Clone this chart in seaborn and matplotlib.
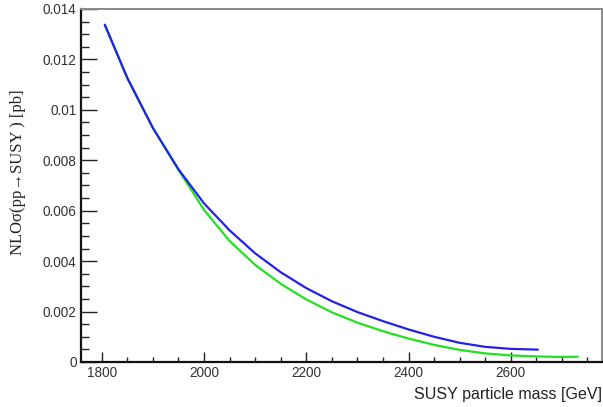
import numpy as np
import pandas as pd
import matplotlib
matplotlib.use("Agg")
import matplotlib.pyplot as plt
import seaborn as sns
from matplotlib.ticker import FixedLocator, MultipleLocator

# blue curve (upper)
mass_blue = [1806, 1850, 1900, 1950, 2000, 2050, 2100, 2150, 2200, 2250,
             2300, 2350, 2400, 2450, 2500, 2550, 2600, 2653]
xsec_blue = [0.01337, 0.01126, 0.00928, 0.00764, 0.00629, 0.00522, 0.00431,
             0.00356, 0.00293, 0.00241, 0.00198, 0.00162, 0.00129, 0.00100,
             0.00076, 0.00060, 0.00052, 0.00049]

# green curve (lower)
mass_green = [1806, 1850, 1900, 1950, 2000, 2050, 2100, 2150, 2200, 2250,
              2300, 2350, 2400, 2450, 2500, 2550, 2600, 2650, 2700, 2731]
xsec_green = [0.01337, 0.01126, 0.00928, 0.00762, 0.00603, 0.00480, 0.00385,
              0.00310, 0.00248, 0.00197, 0.00156, 0.00122, 0.00093, 0.00068,
              0.00048, 0.00034, 0.00026, 0.00022, 0.00020, 0.00021]

x_ticks = [1800, 2000, 2200, 2400, 2600]
y_ticks = [0, 0.002, 0.004, 0.006, 0.008, 0.01, 0.012, 0.014]
y_tick_labels = ["0", "0.002", "0.004", "0.006", "0.008", "0.01", "0.012", "0.014"]

df = pd.concat([
    pd.DataFrame({"mass": mass_green, "xsec": xsec_green, "curve": "green"}),
    pd.DataFrame({"mass": mass_blue, "xsec": xsec_blue, "curve": "blue"}),
])

sns.set_style("white")
plt.rcParams["font.family"] = ["Liberation Sans", "DejaVu Sans"]

fig = plt.figure(figsize=(6.03, 4.07), dpi=100)
ax = fig.add_axes([0.134, 0.1106, 0.864, 0.8674])

sns.lineplot(data=df, x="mass", y="xsec", hue="curve", sort=False,
             palette={"green": "#22e022", "blue": "#2222e6"},
             linewidth=1.6, legend=False, ax=ax, estimator=None)

ax.set_xlim(1759, 2778)
ax.set_ylim(0, 0.014)

ax.xaxis.set_major_locator(FixedLocator(x_ticks))
ax.xaxis.set_minor_locator(MultipleLocator(50))
ax.set_yticks(y_ticks)
ax.set_yticklabels(y_tick_labels)
ax.yaxis.set_minor_locator(MultipleLocator(0.0005))

# ticks inside, only on left / bottom like the ROOT frame
ax.tick_params(axis="both", which="both", direction="in", colors="#222222",
               labelcolor="#333333", labelsize=9.8, width=1.0,
               left=True, bottom=True, top=False, right=False)
ax.tick_params(axis="y", which="major", length=11.3, pad=3)
ax.tick_params(axis="y", which="minor", length=5.8)
ax.tick_params(axis="x", which="major", length=7.2, pad=3)
ax.tick_params(axis="x", which="minor", length=3.6)

for side in ["left", "bottom"]:
    ax.spines[side].set_color("#111111")
    ax.spines[side].set_linewidth(1.6)
for side in ["top", "right"]:
    ax.spines[side].set_color("#8a8a8a")
    ax.spines[side].set_linewidth(1.4)

ax.set_xlabel("SUSY particle mass [GeV]", fontsize=11.5, color="#222222", loc="right")
ax.xaxis.set_label_coords(1.0, -0.072)
ax.set_ylabel("")

fig.text(0.030, 0.577, "NLO\u03c3(pp\u2192SUSY ) [pb]", rotation=90,
         ha="center", va="center", fontsize=12, color="#222222",
         family=["Liberation Serif", "DejaVu Serif"])

fig.savefig("out.png", dpi=100)
